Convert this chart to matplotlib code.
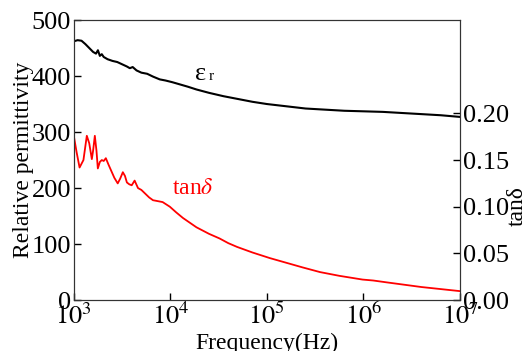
import matplotlib.pyplot as plt
import numpy as np

plt.rcParams['font.family'] = ['Liberation Serif', 'DejaVu Serif']
plt.rcParams['mathtext.fontset'] = 'stix'

# permittivity, log10 of frequency
eps_logf = [3.00, 3.04, 3.08, 3.12, 3.16, 3.20, 3.23, 3.25, 3.27, 3.29, 3.31, 3.35, 3.40, 3.45,
            3.50, 3.55, 3.58, 3.61, 3.65, 3.70, 3.76, 3.82, 3.89, 3.95, 4.02, 4.10, 4.18, 4.27,
            4.40, 4.55, 4.70, 4.85, 5.00, 5.20, 5.40, 5.60, 5.80, 6.00, 6.20, 6.40, 6.60, 6.80, 7.00]
eps_vals = [462, 464, 463, 457, 450, 443, 440, 446, 436, 439, 434, 430, 427, 425,
            421, 417, 414, 416, 410, 406, 404, 399, 394, 392, 389, 385, 381, 376,
            370, 364, 359, 354, 350, 346, 342, 340, 338, 337, 336, 334, 332, 330, 327]

# loss tangent
tan_logf = [3.00, 3.03, 3.06, 3.10, 3.135, 3.16, 3.187, 3.20, 3.218, 3.235, 3.249, 3.27, 3.29,
            3.31, 3.332, 3.36, 3.39, 3.42, 3.455, 3.48, 3.508, 3.53, 3.55, 3.575, 3.60, 3.63,
            3.665, 3.70, 3.74, 3.78, 3.82, 3.87, 3.92, 3.995, 4.06, 4.13, 4.20, 4.27, 4.40,
            4.51, 4.60, 4.69, 4.85, 5.03, 5.20, 5.37, 5.55, 5.75, 5.99, 6.10, 6.24, 6.60, 7.00]
tan_vals = [0.176, 0.158, 0.142, 0.150, 0.176, 0.168, 0.151, 0.160, 0.176, 0.160, 0.141, 0.148,
            0.150, 0.149, 0.152, 0.145, 0.138, 0.131, 0.125, 0.130, 0.137, 0.133, 0.126, 0.124,
            0.123, 0.128, 0.120, 0.118, 0.114, 0.110, 0.107, 0.106, 0.105, 0.100, 0.094, 0.088,
            0.083, 0.078, 0.071, 0.066, 0.061, 0.057, 0.051, 0.045, 0.040, 0.035, 0.030, 0.026,
            0.022, 0.021, 0.019, 0.014, 0.0096]

fig = plt.figure(figsize=(5.27, 3.51), dpi=100)
ax1 = fig.add_axes([0.140, 0.145, 0.733, 0.798])
ax2 = ax1.twinx()

ax1.plot(10 ** np.array(eps_logf), eps_vals, color='black', lw=1.5)
ax2.plot(10 ** np.array(tan_logf), tan_vals, color='red', lw=1.3)

ax1.set_xscale('log')
ax1.set_xlim(1e3, 1e7)
ax1.set_ylim(0, 500)
ax1.set_yticks([0, 100, 200, 300, 400, 500])
ax1.set_xticks([1e3, 1e4, 1e5, 1e6, 1e7])
ax1.set_xticklabels(['$10^{3}$', '$10^{4}$', '$10^{5}$', '$10^{6}$', '$10^{7}$'])
ax1.minorticks_off()
ax2.set_ylim(0, 0.3)
ax2.set_yticks([0, 0.05, 0.10, 0.15, 0.20])
ax2.set_yticklabels(['0.00', '0.05', '0.10', '0.15', '0.20'])

for a in (ax1, ax2):
    a.tick_params(direction='in', length=5, width=1, labelsize=19, pad=2)
    for s in a.spines.values():
        s.set_color('#333333')

ax1.set_xlabel('Frequency(Hz)', fontsize=17, labelpad=3)
ax1.set_ylabel('Relative permittivity', fontsize=17, labelpad=-2)
ax2.set_ylabel('tanδ', fontsize=17)
ax2.yaxis.set_label_coords(1.12, 0.336)

ax1.text(10 ** 4.31, 393, 'ε', fontsize=19, ha='center', va='baseline')
ax1.text(10 ** 4.42, 393, 'r', fontsize=11, ha='center', va='baseline')
ax1.text(10 ** 4.23, 200, r'tan$\delta$', fontsize=17, color='red', ha='center', va='center')

fig.savefig('out.png', dpi=100)
